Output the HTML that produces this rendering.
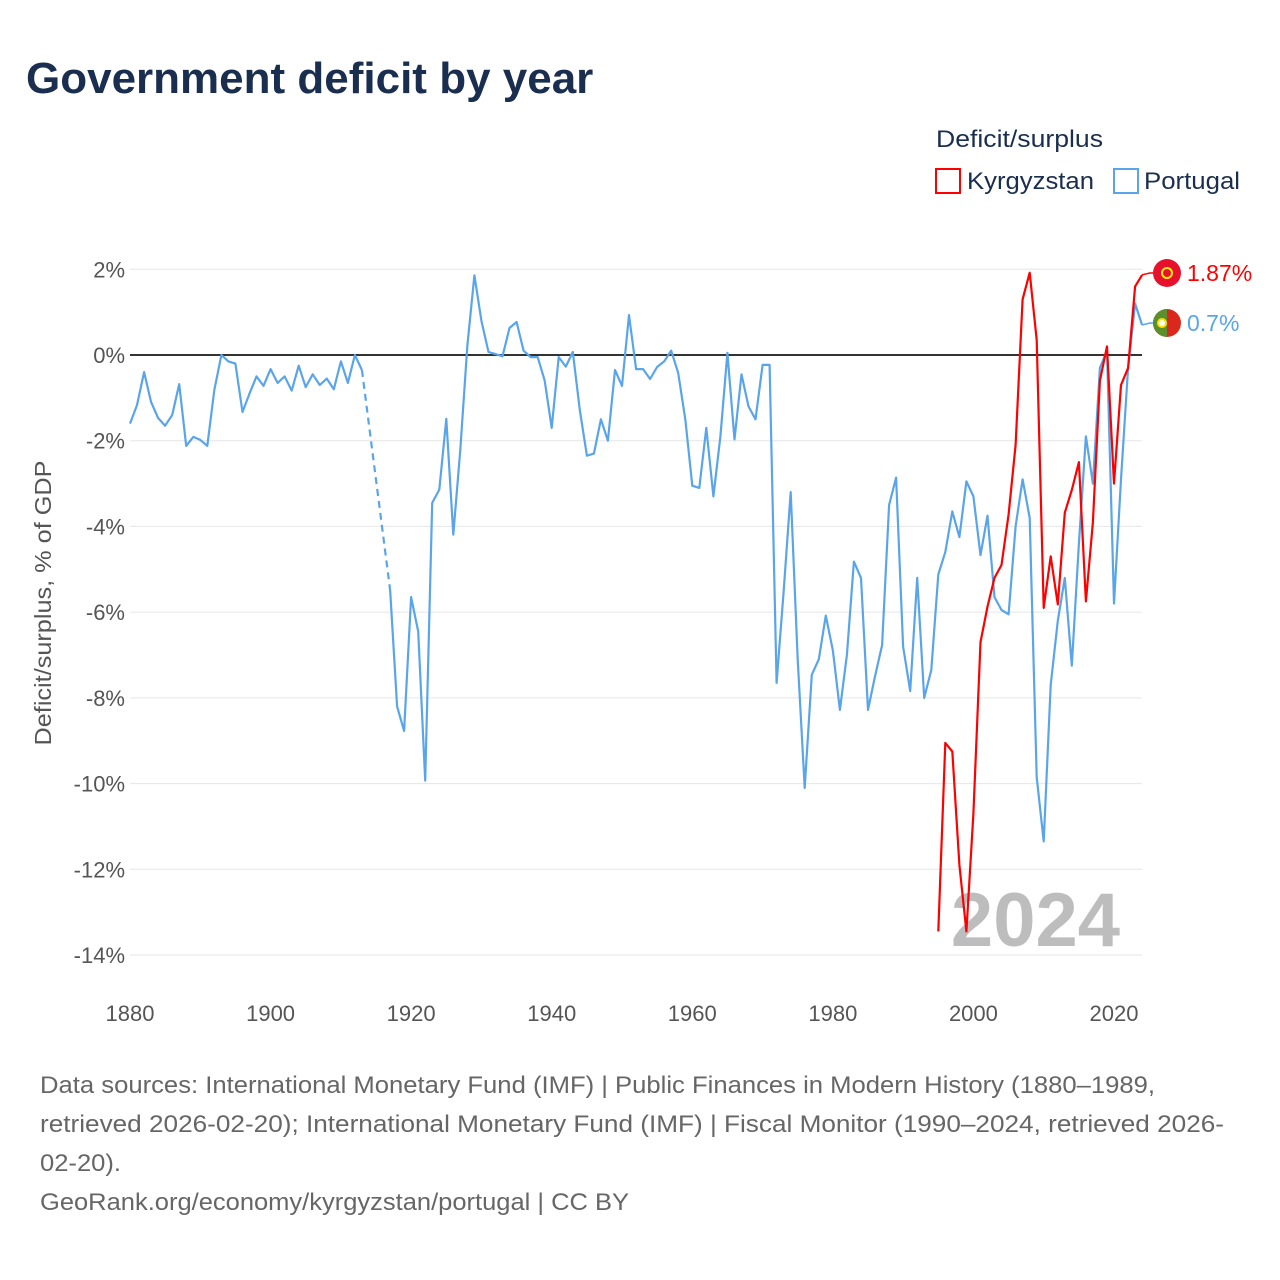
<!DOCTYPE html>
<html><head><meta charset="utf-8"><style>
body{margin:0;background:#fff;font-family:"Liberation Sans",sans-serif;}
#wrap{position:relative;width:1280px;height:1280px;overflow:hidden;}
</style></head><body>
<div id="wrap">
<svg id="chart" width="1280" height="1280" style="position:absolute;left:0;top:0"></svg>
</div>
<script>
const yTicks=[2,0,-2,-4,-6,-8,-10,-12,-14];
const xTicks=[1880,1900,1920,1940,1960,1980,2000,2020];
const ptYearsA=[1880,1881,1882,1883,1884,1885,1886,1887,1888,1889,1890,1891,1892,1893,1894,1895,1896,1897,1898,1899,1900,1901,1902,1903,1904,1905,1906,1907,1908,1909,1910,1911,1912,1913];
const ptValsA=[-1.6,-1.17,-0.4,-1.1,-1.47,-1.65,-1.4,-0.68,-2.12,-1.91,-1.98,-2.12,-0.82,0,-0.15,-0.2,-1.33,-0.9,-0.5,-0.72,-0.33,-0.65,-0.5,-0.83,-0.25,-0.75,-0.45,-0.7,-0.55,-0.8,-0.15,-0.65,0,-0.35];
const ptYearsB=[1917,1918,1919,1920,1921,1922,1923,1924,1925,1926,1927,1928,1929,1930,1931,1932,1933,1934,1935,1936,1937,1938,1939,1940,1941,1942,1943,1944,1945,1946,1947,1948,1949,1950,1951,1952,1953,1954,1955,1956,1957,1958,1959,1960,1961,1962,1963,1964,1965,1966,1967,1968,1969,1970,1971,1972,1973,1974,1975,1976,1977,1978,1979,1980,1981,1982,1983,1984,1985,1986,1987,1988,1989,1990,1991,1992,1993,1994,1995,1996,1997,1998,1999,2000,2001,2002,2003,2004,2005,2006,2007,2008,2009,2010,2011,2012,2013,2014,2015,2016,2017,2018,2019,2020,2021,2022,2023,2024];
const ptValsB=[-5.47,-8.2,-8.77,-5.65,-6.45,-9.93,-3.45,-3.14,-1.49,-4.19,-2.21,0.23,1.86,0.8,0.07,0.02,-0.03,0.63,0.77,0.1,-0.05,-0.05,-0.6,-1.7,-0.05,-0.27,0.07,-1.28,-2.35,-2.3,-1.5,-2,-0.35,-0.72,0.93,-0.33,-0.33,-0.56,-0.28,-0.15,0.1,-0.42,-1.5,-3.05,-3.1,-1.7,-3.3,-1.9,0.05,-1.97,-0.45,-1.2,-1.5,-0.23,-0.23,-7.65,-5.5,-3.2,-7.1,-10.1,-7.46,-7.1,-6.08,-6.9,-8.28,-7,-4.82,-5.2,-8.28,-7.5,-6.77,-3.5,-2.86,-6.8,-7.84,-5.2,-8,-7.35,-5.12,-4.6,-3.65,-4.25,-2.95,-3.3,-4.67,-3.75,-5.65,-5.95,-6.05,-4,-2.9,-3.8,-9.85,-11.35,-7.7,-6.2,-5.2,-7.25,-4.4,-1.9,-3.0,-0.3,0.1,-5.8,-2.9,-0.3,1.2,0.7];
const kgYears=[1995,1996,1997,1998,1999,2000,2001,2002,2003,2004,2005,2006,2007,2008,2009,2010,2011,2012,2013,2014,2015,2016,2017,2018,2019,2020,2021,2022,2023,2024];
const kgVals=[-13.45,-9.05,-9.25,-11.9,-13.45,-10.7,-6.7,-5.87,-5.2,-4.9,-3.72,-2.1,1.3,1.92,0.35,-5.9,-4.7,-5.82,-3.68,-3.15,-2.5,-5.75,-3.9,-0.6,0.2,-3.0,-0.7,-0.3,1.6,1.87];

const NS='http://www.w3.org/2000/svg';
const svg=document.getElementById('chart');
const X=y=>130+(y-1880)*(984/140);
const Y=v=>355-v*(600/14);
function mk(tag,attrs,parent){const e=document.createElementNS(NS,tag);for(const k in attrs)e.setAttribute(k,attrs[k]);(parent||svg).appendChild(e);return e;}
function txt(s,attrs){const t=mk('text',attrs);t.textContent=s;return t;}

let t=txt('Government deficit by year',{x:26,y:93,'font-size':44,'font-weight':'bold',fill:'#1a2e4f'});



t=txt('Deficit/surplus',{x:936,y:147,'font-size':24,fill:'#1a2e4f',textLength:167,lengthAdjust:'spacingAndGlyphs'});


let g=mk('g',{});


mk('rect',{x:936,y:169,width:24,height:24,fill:'none',stroke:'#ff0000','stroke-width':2},g);
let tt=mk('text',{x:967,y:189,'font-size':24,fill:'#1a2e4f',textLength:127,lengthAdjust:'spacingAndGlyphs'},g);tt.textContent='Kyrgyzstan';
g=mk('g',{});


mk('rect',{x:1114,y:169,width:24,height:24,fill:'none',stroke:'#5aa5ea','stroke-width':2},g);
tt=mk('text',{x:1144,y:189,'font-size':24,fill:'#1a2e4f',textLength:96,lengthAdjust:'spacingAndGlyphs'},g);tt.textContent='Portugal';

yTicks.forEach(v=>{
  const l=mk('line',{x1:130,x2:1142,y1:Y(v),y2:Y(v),stroke:'#e6e6e6','stroke-width':1});
  
  
  const tx=txt(v+'%',{x:125,y:Y(v)+8,'font-size':22,fill:'#555','text-anchor':'end'});
  
  
});
xTicks.forEach(yr=>{
  const tx=txt(String(yr),{x:X(yr),y:1021,'font-size':22,fill:'#555','text-anchor':'middle'});
  
  
});
t=txt('Deficit/surplus, % of GDP',{x:0,y:0,'font-size':23,fill:'#555','text-anchor':'middle',textLength:285,lengthAdjust:'spacingAndGlyphs',transform:'translate(51,603) rotate(-90)'});



t=txt('2024',{x:1120,y:946,'font-size':76,'font-weight':'bold',fill:'#bdbdbd','text-anchor':'end'});



let z=mk('line',{x1:130,x2:1142,y1:Y(0),y2:Y(0),stroke:'#333','stroke-width':2});



function pts(ys,vs){return ys.map((y,i)=>X(y).toFixed(1)+','+Y(vs[i]).toFixed(1)).join(' ');}
let p=mk('polyline',{points:pts(ptYearsA,ptValsA),fill:'none',stroke:'#5aa5ea','stroke-width':2.2,'stroke-linejoin':'round'});


p=mk('line',{x1:X(ptYearsA[ptYearsA.length-1]),y1:Y(ptValsA[ptValsA.length-1]),x2:X(ptYearsB[0]),y2:Y(ptValsB[0]),stroke:'#5aa5ea','stroke-width':2.2,'stroke-dasharray':'7,5'});


p=mk('polyline',{points:pts(ptYearsB,ptValsB),fill:'none',stroke:'#5aa5ea','stroke-width':2.2,'stroke-linejoin':'round'});


p=mk('polyline',{points:pts(kgYears,kgVals),fill:'none',stroke:'#ff0000','stroke-width':2.2,'stroke-linejoin':'round'});



const kgLast=kgVals[kgVals.length-1], ptLast=ptValsB[ptValsB.length-1];
const ky=273, py=323;
mk('polyline',{points:`${X(2024)},${Y(kgLast)} 1150,${ky} 1155,${ky}`,fill:'none',stroke:'#ff0000','stroke-width':1.5});
mk('polyline',{points:`${X(2024)},${Y(ptLast)} 1150,${py} 1155,${py}`,fill:'none',stroke:'#5aa5ea','stroke-width':1.5});
g=mk('g',{});


mk('circle',{cx:1167,cy:ky,r:14,fill:'#e8112d'},g);
mk('circle',{cx:1167,cy:ky,r:5,fill:'none',stroke:'#ffef00','stroke-width':2},g);
g=mk('g',{});


mk('circle',{cx:1167,cy:py,r:14,fill:'#da291c'},g);
mk('path',{d:`M1167,${py-14} A14,14 0 0 0 1167,${py+14} Z`,fill:'#5a8f2c'},g);
mk('circle',{cx:1162,cy:py,r:4,fill:'#fff',stroke:'#ffe000','stroke-width':2},g);
t=txt((kgLast)+'%',{x:1187,y:ky+8,'font-size':23,fill:'#ff0000'});


t=txt((ptLast)+'%',{x:1187,y:py+8,'font-size':23,fill:'#5aa5ea'});



const src=['Data sources: International Monetary Fund (IMF) | Public Finances in Modern History (1880–1989,','retrieved 2026-02-20); International Monetary Fund (IMF) | Fiscal Monitor (1990–2024, retrieved 2026-','02-20).','GeoRank.org/economy/kyrgyzstan/portugal | CC BY'];
const srcLen=[1115,1184,81,589];
src.forEach((s,i)=>{
  const tx=txt(s,{x:40,y:1093+i*39,'font-size':24,fill:'#666',textLength:srcLen[i],lengthAdjust:'spacingAndGlyphs'});
  
  
});
</script>
</body></html>
